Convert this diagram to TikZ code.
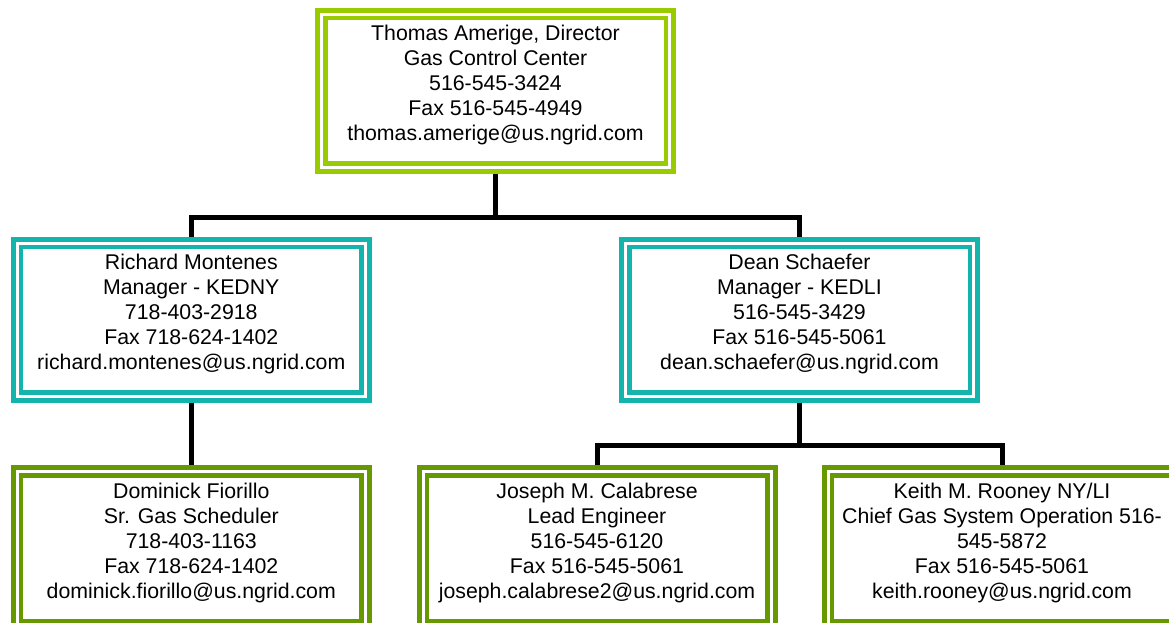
\documentclass[tikz,border=0pt]{standalone}
\usepackage{fontspec}
\setmainfont{Liberation Sans}
\definecolor{limeg}{HTML}{99CC00}
\definecolor{tealc}{HTML}{14B4AC}
\definecolor{oliveg}{HTML}{669900}
\tikzset{
  orgbox/.style={draw=#1, line width=5pt, fill=white, rectangle, inner sep=0pt,
    minimum width=356pt, minimum height=161pt},
  innerframe/.style={draw=#1, line width=4.5pt},
  link/.style={draw=black, line width=5pt},
  info/.style={anchor=base, inner sep=0pt, font=\fontsize{21.3}{25}\selectfont}
}
\newcommand{\orgcard}[4]{%
  \node[orgbox=#2] (#1) at (#3) {};
  \draw[innerframe=#2] ([shift={(10.25pt,-10.25pt)}]#1.north west) rectangle ([shift={(-10.25pt,10.25pt)}]#1.south east);
  \node[info] (#1-text) at ([yshift=-33pt]#1.north) {\begin{tabular}[t]{@{}c@{}}#4\end{tabular}};
}
\begin{document}
\begin{tikzpicture}[x=1pt,y=-1pt]
\useasboundingbox (0,0) rectangle (1169,623);
\fill[white] (0,0) rectangle (1169,623);
\clip (0,0) rectangle (1169,623);

\orgcard{top}{limeg}{495.5,90.75}{Thomas Amerige, Director\\Gas Control Center\\516-545-3424\\Fax 516-545-4949\\thomas.amerige@us.ngrid.com}
\orgcard{mgr1}{tealc}{191.3,319.7}{Richard Montenes\\Manager - KEDNY\\718-403-2918\\Fax 718-624-1402\\richard.montenes@us.ngrid.com}
\orgcard{mgr2}{tealc}{799.5,319.7}{Dean Schaefer\\Manager - KEDLI\\516-545-3429\\Fax 516-545-5061\\dean.schaefer@us.ngrid.com}
\orgcard{sub1}{oliveg}{191.3,548}{Dominick Fiorillo\\Sr. Gas Scheduler\\718-403-1163\\Fax 718-624-1402\\dominick.fiorillo@us.ngrid.com}
\orgcard{sub2}{oliveg}{597,548}{Joseph M. Calabrese\\Lead Engineer\\516-545-6120\\Fax 516-545-5061\\joseph.calabrese2@us.ngrid.com}
\orgcard{sub3}{oliveg}{1002,548}{Keith M. Rooney NY/LI\\Chief Gas System Operation 516-\\545-5872\\Fax 516-545-5061\\keith.rooney@us.ngrid.com}

\coordinate (j1) at (495.5,217.5);
\coordinate (j2) at (799.5,445.7);
\draw[link] (top.south) -- (j1);
\draw[link] (mgr1.north) |- (j1) -| (mgr2.north);
\draw[link] (mgr1.south) -- (sub1.north);
\draw[link] (mgr2.south) -- (j2);
\draw[link] (sub2.north) |- (j2) -| (sub3.north);
\end{tikzpicture}
\end{document}
